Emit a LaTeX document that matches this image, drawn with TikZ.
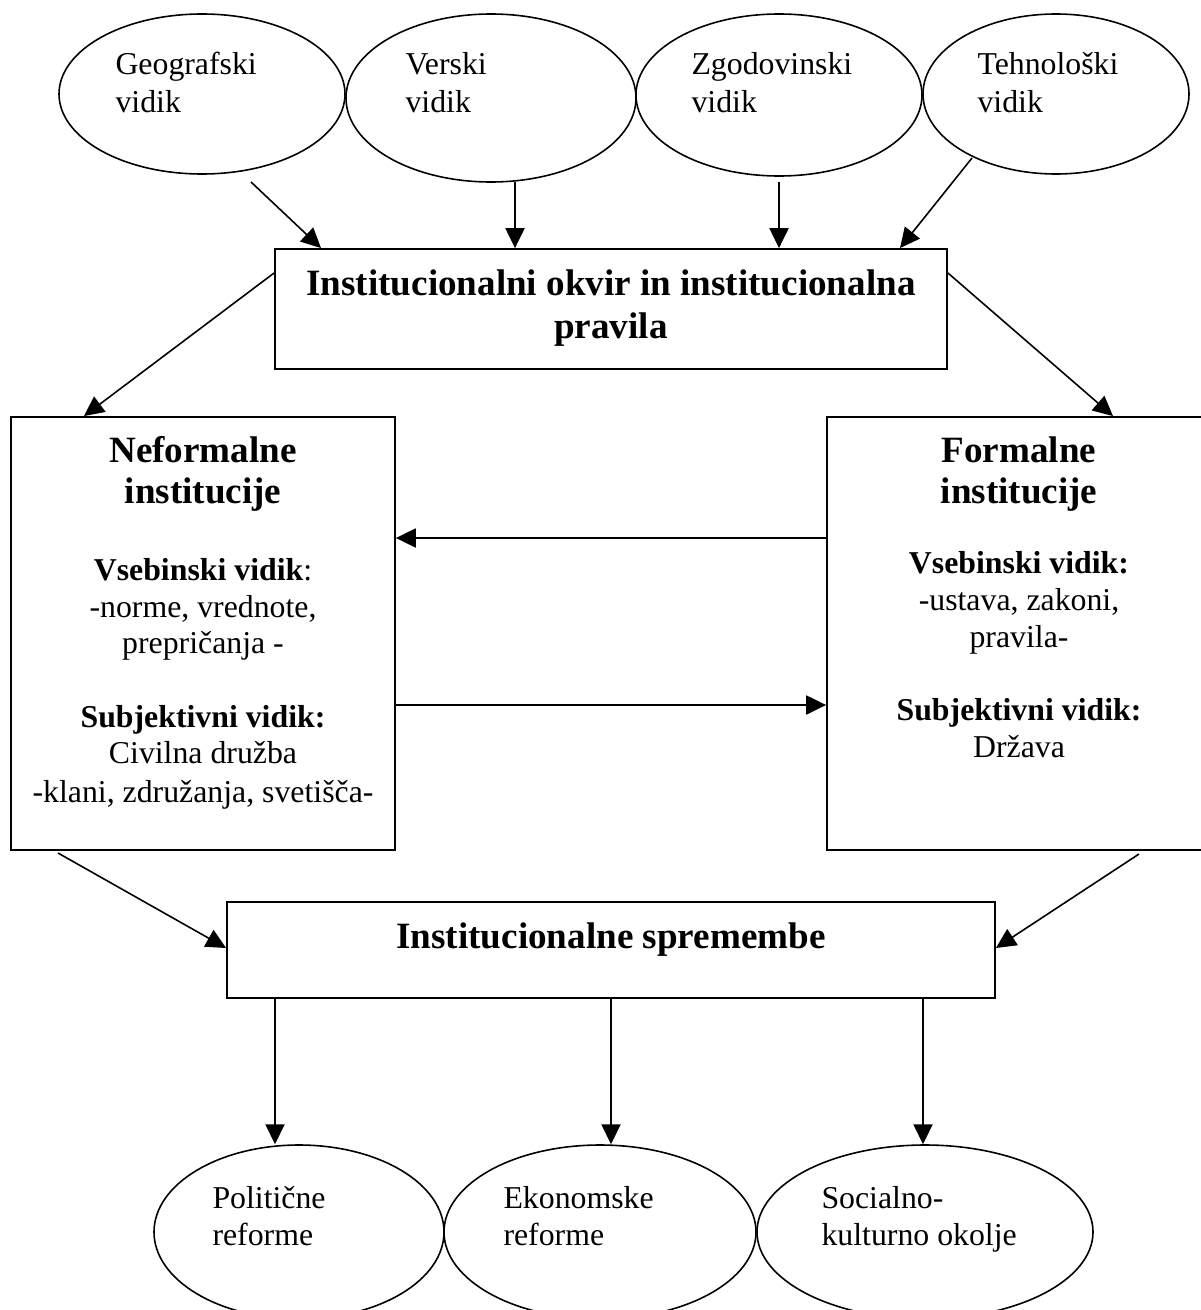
\documentclass[tikz,border=0pt]{standalone}
\usepackage{fontspec}
\setmainfont{Liberation Serif}
\usetikzlibrary{arrows.meta,shapes.geometric}
\def\pxu{0.37736pt}
\tikzset{
  arr/.style={line width=0.6pt, -{Triangle[length=7.5pt,width=7.2pt]}},
  ell/.style={draw, ellipse, line width=0.6pt, inner sep=0pt},
  boxn/.style={draw, rectangle, line width=0.7pt, inner sep=0pt},
  body/.style={inner sep=0pt, font=\fontsize{12}{13.8}\selectfont},
  lt/.style={body, anchor=base west},
  ct/.style={body, anchor=base},
  hd/.style={inner sep=0pt, anchor=base, font=\fontsize{14}{16.1}\selectfont\bfseries},
}
\begin{document}
\begin{tikzpicture}[x=0.37736pt, y=-0.37736pt]
\useasboundingbox (0,0) rectangle (1201,1310);
\clip (0,0) rectangle (1201,1310);

% top ellipses
\node[ell, minimum width=286*\pxu, minimum height=160*\pxu] (e1) at (202,94) {};
\node[ell, minimum width=290*\pxu, minimum height=168*\pxu] (e2) at (491,98) {};
\node[ell, minimum width=286*\pxu, minimum height=162*\pxu] (e3) at (779,95) {};
\node[ell, minimum width=266*\pxu, minimum height=160*\pxu] (e4) at (1056,94) {};
\node[lt] (t1a) at (115,75) {Geografski};
\node[lt] (t1b) at (115,112) {vidik};
\node[lt] (t2a) at (405,75) {Verski};
\node[lt] (t2b) at (405,112) {vidik};
\node[lt] (t3a) at (691,75) {Zgodovinski};
\node[lt] (t3b) at (691,112) {vidik};
\node[lt] (t4a) at (977,75) {Tehnološki};
\node[lt] (t4b) at (977,112) {vidik};

% top box
\node[boxn, minimum width=672*\pxu, minimum height=120*\pxu] (b1) at (611,309) {};
\node[hd] (b1a) at (611,295) {Institucionalni okvir in institucionalna};
\node[hd] (b1b) at (611,338) {pravila};

% side boxes
\node[boxn, minimum width=384*\pxu, minimum height=433*\pxu] (b2) at (203,633.5) {};
\node[boxn, minimum width=383*\pxu, minimum height=433*\pxu] (b3) at (1018.5,633.5) {};

\node[hd] (n1) at (203,462) {Neformalne};
\node[hd] (n2) at (203,503) {institucije};
\node[ct] (n3) at (203,580) {\textbf{Vsebinski vidik}:};
\node[ct] (n4) at (203,617) {-norme, vrednote,};
\node[ct] (n5) at (203,653) {prepričanja -};
\node[ct] (n6) at (203,727) {\textbf{Subjektivni vidik:}};
\node[ct] (n7) at (203,763) {Civilna družba};
\node[ct] (n8) at (203,802) {-klani, združanja, svetišča-};

\node[hd] (f1) at (1019,462) {Formalne};
\node[hd] (f2) at (1019,503) {institucije};
\node[ct] (f3) at (1019,573) {\textbf{Vsebinski vidik:}};
\node[ct] (f4) at (1019,610) {-ustava, zakoni,};
\node[ct] (f5) at (1019,647) {pravila-};
\node[ct] (f6) at (1019,720) {\textbf{Subjektivni vidik:}};
\node[ct] (f7) at (1019,757) {Država};

% bottom box
\node[boxn, minimum width=768*\pxu, minimum height=96*\pxu] (b4) at (611,950) {};
\node[hd] (b4a) at (611,948) {Institucionalne spremembe};

% bottom ellipses
\node[ell, minimum width=290*\pxu, minimum height=174*\pxu] (e5) at (299,1232) {};
\node[ell, minimum width=312*\pxu, minimum height=174*\pxu] (e6) at (600,1232) {};
\node[ell, minimum width=336*\pxu, minimum height=174*\pxu] (e7) at (925,1232) {};
\node[lt] (t5a) at (212,1208) {Politične};
\node[lt] (t5b) at (212,1245) {reforme};
\node[lt] (t6a) at (503,1208) {Ekonomske};
\node[lt] (t6b) at (503,1245) {reforme};
\node[lt] (t7a) at (821,1208) {Socialno-};
\node[lt] (t7b) at (821,1245) {kulturno okolje};

% helper coordinates
\coordinate (a1s) at (251,182);  \coordinate (a1t) at (321,0);
\coordinate (a2s) at (515,182);
\coordinate (a3s) at (779,182);
\coordinate (a4s) at (972,158);  \coordinate (a4t) at (900,0);
\coordinate (l1) at (0,273);
\coordinate (l2t) at (84,0);
\coordinate (r2t) at (1113,0);
\coordinate (h1) at (0,538);
\coordinate (h2) at (0,705);
\coordinate (h3) at (0,948);
\coordinate (s5) at (58,853);
\coordinate (s6) at (1139,854);
\coordinate (d1) at (275,0);
\coordinate (d2) at (611,0);
\coordinate (d3) at (923,0);

% connectors
\draw[arr] (a1s) -- (a1t |- b1.north);
\draw[arr] (a2s) -- (a2s |- b1.north);
\draw[arr] (a3s) -- (a3s |- b1.north);
\draw[arr] (a4s) -- (a4t |- b1.north);
\draw[arr] (l1 -| b1.west) -- (l2t |- b2.north);
\draw[arr] (l1 -| b1.east) -- (r2t |- b3.north);
\draw[arr] (h1 -| b3.west) -- (h1 -| b2.east);
\draw[arr] (h2 -| b2.east) -- (h2 -| b3.west);
\draw[arr] (s5) -- (h3 -| b4.west);
\draw[arr] (s6) -- (h3 -| b4.east);
\draw[arr] (d1 |- b4.south) -- (d1 |- e5.north);
\draw[arr] (d2 |- b4.south) -- (d2 |- e6.north);
\draw[arr] (d3 |- b4.south) -- (d3 |- e7.north);
\end{tikzpicture}
\end{document}
